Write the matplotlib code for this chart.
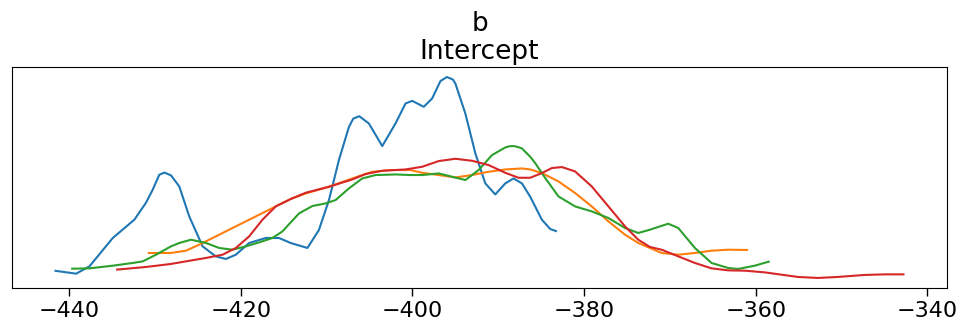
import matplotlib
matplotlib.use("Agg")
import matplotlib.pyplot as plt

title_text = "b\nIntercept"
xticks = [-440, -420, -400, -380, -360, -340]

chain0_x = [-441.71, -439.19, -437.64, -434.92, -432.41, -431.05, -430.27, -429.50, -428.90, -428.14,
            -427.17, -426.01, -424.45, -422.91, -421.74, -420.58, -419.03, -417.09, -415.55, -414.19,
            -412.24, -410.90, -409.73, -408.57, -407.41, -406.90, -406.20, -405.08, -403.52, -401.98,
            -400.81, -400.03, -398.69, -397.71, -396.74, -396.00, -395.30, -395.00, -393.84, -392.67,
            -391.51, -390.35, -389.19, -388.22, -387.24, -386.28, -384.92, -383.95, -383.17]
chain0_d = [0.00475, 0.0040, 0.00583, 0.01293, 0.0175, 0.02175, 0.025, 0.02875, 0.0293, 0.0286,
            0.02583, 0.01833, 0.01083, 0.00833, 0.00768, 0.00875, 0.01168, 0.01293, 0.01293, 0.01168,
            0.01043, 0.01493, 0.02243, 0.03243, 0.04068, 0.0428, 0.0434, 0.04158, 0.03593, 0.04158,
            0.04658, 0.04725, 0.04575, 0.04783, 0.0522, 0.0532, 0.0526, 0.05158, 0.04408, 0.03408,
            0.02658, 0.02383, 0.02658, 0.02783, 0.02658, 0.02325, 0.0175, 0.01518, 0.01458]

chain1_x = [-430.85, -428.14, -426.40, -424.85, -422.91, -420.97, -419.03, -417.09, -415.55, -414.19,
            -412.44, -409.73, -407.01, -404.69, -402.36, -400.23, -398.87, -396.94, -395.00, -393.06,
            -391.13, -389.19, -387.24, -386.28, -384.92, -382.99, -381.05, -379.11, -377.17, -375.23,
            -373.69, -372.33, -370.97, -369.03, -367.09, -365.15, -363.22, -360.90]
chain1_d = [0.00918, 0.00918, 0.00975, 0.01125, 0.01333, 0.01543, 0.0175, 0.01958, 0.02125, 0.02268,
            0.02408, 0.02575, 0.02783, 0.0295, 0.02993, 0.02993, 0.02925, 0.02868, 0.02808, 0.02868,
            0.0295, 0.03008, 0.03033, 0.03008, 0.02918, 0.02708, 0.02418, 0.02083, 0.01708, 0.01375,
            0.01168, 0.01043, 0.00918, 0.00875, 0.00918, 0.00975, 0.01, 0.00993]

chain2_x = [-439.77, -437.64, -434.92, -432.59, -431.43, -429.88, -428.14, -427.17, -425.81, -424.07,
            -422.52, -420.97, -419.42, -417.87, -416.31, -415.15, -414.19, -413.22, -411.66, -410.12,
            -408.95, -407.41, -405.85, -404.30, -401.98, -400.23, -398.87, -396.94, -395.38, -393.84,
            -392.29, -390.73, -389.19, -388.72, -388.22, -387.79, -387.24, -386.28, -385.70, -384.53,
            -382.99, -381.05, -379.11, -377.17, -375.23, -373.69, -372.33, -371.74, -370.20, -369.03,
            -367.09, -365.15, -363.22, -362.06, -360.12, -358.37]
chain2_d = [0.00525, 0.00533, 0.006, 0.00668, 0.00708, 0.00875, 0.01083, 0.01168, 0.0125, 0.01168,
            0.01043, 0.01, 0.01083, 0.01183, 0.01293, 0.01458, 0.01683, 0.01908, 0.02093, 0.02158,
            0.02243, 0.02533, 0.02783, 0.02868, 0.02883, 0.02868, 0.02868, 0.02908, 0.02825, 0.02743,
            0.02993, 0.03368, 0.03558, 0.03588, 0.03593, 0.03575, 0.03533, 0.03325, 0.03168, 0.02793,
            0.02333, 0.02083, 0.01958, 0.01793, 0.01543, 0.01418, 0.015, 0.01543, 0.0165, 0.01543,
            0.01043, 0.00668, 0.00543, 0.00518, 0.006, 0.00708]

chain3_x = [-434.53, -431.05, -428.14, -426.40, -424.07, -422.13, -420.58, -419.03, -417.48, -415.93,
            -414.19, -412.44, -409.73, -407.01, -405.47, -403.52, -400.81, -398.87, -396.94, -395.00,
            -393.06, -391.13, -389.19, -387.64, -386.28, -384.92, -383.76, -382.59, -381.05, -379.11,
            -377.17, -375.23, -373.69, -372.33, -370.97, -369.03, -367.09, -365.15, -363.22, -361.28,
            -358.95, -357.01, -355.08, -352.76, -350.43, -347.33, -345.00, -342.67]
chain3_d = [0.005, 0.00568, 0.00643, 0.00708, 0.00793, 0.00875, 0.01043, 0.01333, 0.0175, 0.02083,
            0.02268, 0.02425, 0.02575, 0.02758, 0.02893, 0.02975, 0.03008, 0.03075, 0.03218, 0.03275,
            0.03225, 0.03118, 0.02925, 0.028, 0.028, 0.02918, 0.03043, 0.03068, 0.02958, 0.02583,
            0.02083, 0.01583, 0.0125, 0.01068, 0.01, 0.00833, 0.00668, 0.00533, 0.00483, 0.00475,
            0.00433, 0.00375, 0.00318, 0.00293, 0.00318, 0.00368, 0.00383, 0.00383]

chains_x = [chain0_x, chain1_x, chain2_x, chain3_x]
chains_d = [chain0_d, chain1_d, chain2_d, chain3_d]
colors = ["#1f77b4", "#ff7f0e", "#2ca02c", "#d62728"]

fig = plt.figure(figsize=(9.6, 3.28), dpi=100)
ax = fig.add_axes([12 / 960, 1 - 288 / 328, 935 / 960, 221 / 328])
for xs, ds, c in zip(chains_x, chains_d, colors):
    ax.plot(xs, ds, color=c, lw=1.5, solid_joinstyle="round", solid_capstyle="butt")

ax.margins(x=0.05, y=0.05)
ax.set_yticks([])
ax.set_xticks(xticks)
ax.set_xticklabels([f"\u2212{abs(t)}" for t in xticks])
ax.tick_params(axis="x", labelsize=16, length=6, width=1)
ax.set_title(title_text, fontsize=19, pad=6, linespacing=1.1)

fig.savefig("out.png", dpi=100)
